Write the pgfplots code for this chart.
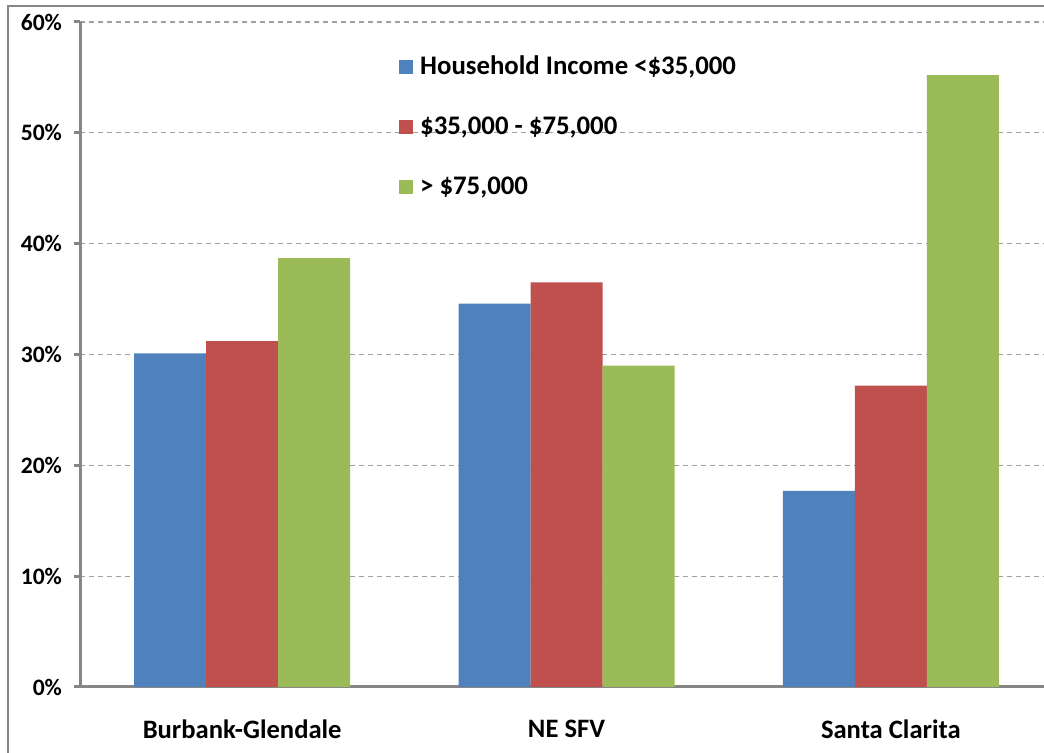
\documentclass[border=0pt]{standalone}
\usepackage{pgfplots}
\pgfplotsset{compat=1.18}
\usepackage{fontspec}
\setmainfont{Carlito}
\definecolor{cblue}{HTML}{4F81BD}
\definecolor{cred}{HTML}{C0504D}
\definecolor{cgreen}{HTML}{9BBB59}
\definecolor{axisgray}{HTML}{868686}
\definecolor{gridgray}{HTML}{A0A0A0}
\begin{document}
\begin{tikzpicture}
\useasboundingbox (0,0) rectangle (522pt,376.5pt);
\clip (0,0) rectangle (522pt,376.5pt);
\fill[white] (0,0) rectangle (522pt,376.5pt);
\draw[draw=axisgray, line width=1pt] (4pt,-10pt) -- (4pt,373.5pt) -- (540pt,373.5pt);
\begin{axis}[
  at={(40pt,33pt)}, anchor=south west,
  scale only axis, width=486.5pt, height=332.5pt,
  xmin=-0.5, xmax=2.5, ymin=0, ymax=60,
  ybar=0pt, bar width=36pt,
  axis x line*=bottom, axis y line*=left,
  axis line style={draw=axisgray, line width=1.5pt},
  ytick={0,10,20,30,40,50,60},
  yticklabels={0\%,10\%,20\%,30\%,40\%,50\%,60\%},
  yticklabel style={font=\bfseries\fontsize{11.8}{14}\selectfont, anchor=east, xshift=-2.5pt},
  ytick pos=left,
  ytick style={draw=axisgray, line width=1.5pt},
  tick align=outside, major tick length=3pt,
  ymajorgrids,
  grid style={draw=gridgray, line width=0.6pt, dash pattern=on 2.5pt off 2pt},
  xtick={0,1,2},
  xticklabels={Burbank-Glendale,NE SFV,Santa Clarita},
  xticklabel style={font=\bfseries\fontsize{13.3}{15}\selectfont, yshift=-10pt},
  xtick style={draw=none},
  extra x ticks={-0.5,0.5,1.5,2.5},
  extra x tick labels={},
  extra x tick style={grid=none, major tick length=4pt, tick style={draw=axisgray, line width=1.5pt}},
  legend style={at={(0.327,0.956)}, anchor=north west, draw=none, fill=none,
    font=\bfseries\fontsize{13.4}{15}\selectfont, row sep=15.6pt, inner sep=0pt,
    nodes={inner xsep=3.8pt}},
  legend cell align=left,
  legend image code/.code={\fill[#1] (0pt,-3.5pt) rectangle (7pt,3.5pt);},
]
\addplot[fill=cblue, draw=none] coordinates {(0,30.1) (1,34.6) (2,17.7)};
\addplot[fill=cred, draw=none] coordinates {(0,31.2) (1,36.5) (2,27.2)};
\addplot[fill=cgreen, draw=none] coordinates {(0,38.7) (1,29.0) (2,55.2)};
\legend{{Household Income <\$35,000}, {\$35,000 - \$75,000}, {> \$75,000}}
\end{axis}
\end{tikzpicture}
\end{document}
